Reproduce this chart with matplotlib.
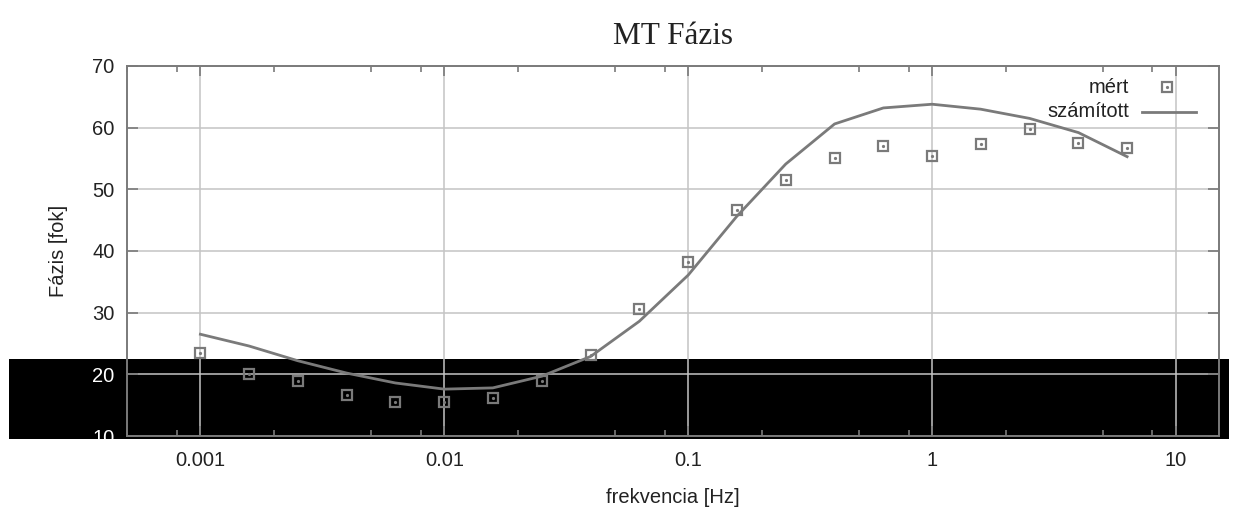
import numpy as np
import matplotlib.pyplot as plt
from matplotlib.patches import Rectangle
from matplotlib.ticker import LogLocator, NullFormatter
from matplotlib.lines import Line2D

# frekvenciák (Hz) és fázisértékek (fok)
freq = [0.001, 0.00158, 0.00251, 0.00398, 0.0063, 0.01, 0.0158, 0.0251,
        0.0398, 0.063, 0.1, 0.158, 0.251, 0.398, 0.631, 1.0, 1.58, 2.51,
        3.98, 6.3]
phase_meas = [23.5, 20.1, 18.9, 16.7, 15.5, 15.5, 16.2, 18.9, 23.1, 30.6,
              38.2, 46.6, 51.5, 55.1, 57.0, 55.4, 57.4, 59.8, 57.5, 56.7]
phase_calc = [26.5, 24.6, 22.2, 20.2, 18.6, 17.6, 17.8, 19.7, 22.9, 28.6,
              36.1, 45.6, 54.1, 60.6, 63.2, 63.8, 63.0, 61.5, 59.2, 55.3]

xtick_vals = [0.001, 0.01, 0.1, 1, 10]
xtick_labels = ["0.001", "0.01", "0.1", "1", "10"]
ytick_vals = [10, 20, 30, 40, 50, 60, 70]

plt.rcParams['font.family'] = ['Liberation Sans', 'DejaVu Sans']
txt = '#222222'
grey = '#7a7a7a'

fig = plt.figure(figsize=(12.33, 5.07), dpi=100)
fig.patch.set_facecolor('white')

# fekete sáv az ábra alsó részén
band = Rectangle((9 / 1233, (507 - 439) / 507), 1220 / 1233, 80 / 507,
                 transform=fig.transFigure, facecolor='black',
                 edgecolor='none', zorder=-1)
fig.add_artist(band)

ax = fig.add_axes([127 / 1233, 1 - 436 / 507, 1092 / 1233, 370 / 507])
ax.set_facecolor('none')

ax.set_xscale('log')
ax.set_xlim(0.0005, 15)
ax.set_ylim(10, 70)

ax.grid(True, which='major', color='#c4c4c4', linewidth=1.1)

ax.plot(freq, phase_calc, color=grey, linewidth=2, zorder=3)
ax.plot(freq, phase_meas, linestyle='none', marker='s', markersize=7.5,
        markerfacecolor='none', markeredgecolor=grey, markeredgewidth=1.6,
        zorder=4)
ax.plot(freq, phase_meas, linestyle='none', marker='o', markersize=1.3,
        color=grey, zorder=4)

ax.set_xticks(xtick_vals)
ax.set_xticklabels(xtick_labels)
ax.xaxis.set_minor_locator(LogLocator(base=10, subs=[2, 5, 8], numticks=20))
ax.xaxis.set_minor_formatter(NullFormatter())
ax.set_yticks(ytick_vals)

ax.tick_params(which='both', direction='in', top=True, right=True,
               color=grey, labelcolor=txt, labelsize=14.5)
ax.tick_params(axis='x', which='major', length=7, width=1.2, pad=11)
ax.tick_params(axis='x', which='minor', length=4, width=1.2)
ax.tick_params(axis='y', which='major', length=8, width=1.2, pad=9)

# a sávba eső feliratok fehérek
for lbl in ax.get_yticklabels()[:2]:
    lbl.set_color('white')

for sp in ax.spines.values():
    sp.set_color(grey)
    sp.set_linewidth(1.4)

ax.set_xlabel("frekvencia [Hz]", fontsize=14.5, color=txt)
ax.xaxis.set_label_coords(0.5, -0.14)
ax.set_ylabel("Fázis [fok]", fontsize=14.5, color=txt)
ax.yaxis.set_label_coords(-0.054, 0.5)

ax.set_title("MT Fázis", fontsize=22.5, color=txt, pad=16,
             family=['Liberation Serif', 'DejaVu Serif'])

# jelmagyarázat jobb felül
ax.text(0.9176, 0.943, "mért", transform=ax.transAxes, ha='right',
        va='center', fontsize=14.5, color=txt)
ax.text(0.9176, 0.876, "számított", transform=ax.transAxes, ha='right',
        va='center', fontsize=14.5, color=txt)
ax.add_line(Line2D([0.952], [0.943], transform=ax.transAxes, marker='s',
                   markersize=7.5, markerfacecolor='none',
                   markeredgecolor=grey, markeredgewidth=1.6))
ax.add_line(Line2D([0.952], [0.943], transform=ax.transAxes, marker='o',
                   markersize=1.3, color=grey))
ax.add_line(Line2D([0.9295, 0.979], [0.876, 0.876], transform=ax.transAxes,
                   color=grey, linewidth=2))

fig.savefig("out.png", dpi=100)
